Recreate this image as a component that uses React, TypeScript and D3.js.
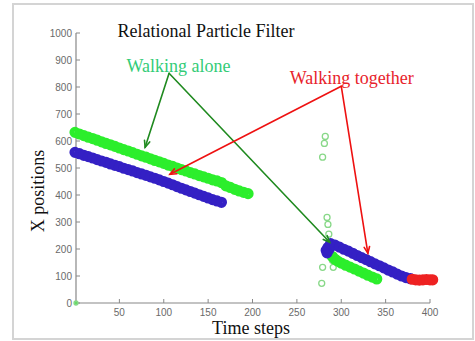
import React from "react";
import * as d3 from "d3";

// ---- data ----
const xTicks = [50, 100, 150, 200, 250, 300, 350, 400];
const yTicks = [0, 100, 200, 300, 400, 500, 600, 700, 800, 900, 1000];

// walking alone (green), first segment
const greenT1 = [0, 5, 10, 15, 20, 25, 30, 35, 40, 45, 50, 55, 60, 65, 70, 75, 80, 85, 90, 95, 100, 105, 110, 115, 120, 125, 130, 135, 140, 145, 150, 155, 160, 165, 170, 175, 180, 185, 190, 195];
const greenV1 = [632, 626, 620, 614, 609, 603, 597, 591, 586, 580, 574, 568, 563, 557, 551, 545, 540, 534, 528, 523, 517, 511, 506, 500, 494, 489, 483, 478, 472, 467, 462, 456, 452, 446, 434, 428, 421, 415, 410, 405];

// walking alone (blue), first segment
const blueT1 = [0, 5, 10, 15, 20, 25, 30, 35, 40, 45, 50, 55, 60, 65, 70, 75, 80, 85, 90, 95, 100, 105, 110, 115, 120, 125, 130, 135, 140, 145, 150, 155, 160, 165];
const blueV1 = [558, 553, 547, 542, 537, 531, 526, 521, 515, 510, 505, 499, 494, 489, 483, 478, 473, 467, 462, 456, 450, 444, 438, 431, 425, 419, 413, 407, 401, 395, 389, 383, 378, 373];

// second segment
const greenT2 = [290, 293, 296, 300, 305, 310, 315, 320, 325, 330, 335, 340];
const greenV2 = [172, 162, 155, 148, 140, 133, 126, 118, 111, 103, 96, 89];

const blueT2 = [283, 284, 285, 286, 288, 293, 298, 303, 308, 313, 318, 323, 328, 333, 338, 343, 348, 353, 358, 363, 368, 373, 378];
const blueV2 = [195, 186, 206, 198, 220, 214, 207, 199, 192, 184, 176, 168, 161, 153, 145, 138, 130, 122, 115, 107, 100, 94, 90];

const redT = [380, 384, 388, 392, 396, 400, 403];
const redV = [88, 86, 85, 86, 87, 86, 86];

// scattered particles (light green open circles)
const scatterT = [282, 281, 279, 284, 285, 286, 279, 291, 278, 290, 0];
const scatterV = [617, 591, 540, 317, 291, 255, 132, 132, 73, 158, 0];

// annotations (data coords)
const titleText = "Relational Particle Filter";
const aloneLabel = { text: "Walking alone", t: 58, v: 855 };
const togetherLabel = { text: "Walking together", t: 242, v: 812 };
const greenArrowFrom = { t: 106, v: 851 };
const greenArrowTo = [{ t: 79, v: 577 }, { t: 287, v: 225 }];
const redArrowFrom = { t: 300, v: 803 };
const redArrowTo = [{ t: 107, v: 477 }, { t: 330, v: 184 }];

const W = 475;
const H = 341;
const x = d3.scaleLinear().domain([0, 400]).range([75, 430]);
const y = d3.scaleLinear().domain([0, 1000]).range([303, 33]);

const SERIF = "'Liberation Serif', 'Times New Roman', serif";
const SANS = "'Liberation Sans', Arial, sans-serif";

function Band({ ts, vs, color }: { ts: number[]; vs: number[]; color: string }) {
  return (
    <g>
      {ts.map((t, i) => (
        <circle key={i} cx={x(t)} cy={y(vs[i])} r={3.2} fill="none" stroke={color} strokeWidth={4.8} />
      ))}
    </g>
  );
}

function Arrow({ from, to, color }: { from: { t: number; v: number }; to: { t: number; v: number }; color: string }) {
  const x1 = x(from.t), y1 = y(from.v), x2 = x(to.t), y2 = y(to.v);
  const ang = Math.atan2(y2 - y1, x2 - x1);
  const len = 7, spread = 0.4;
  const ax = x2 - len * Math.cos(ang - spread), ay = y2 - len * Math.sin(ang - spread);
  const bx = x2 - len * Math.cos(ang + spread), by = y2 - len * Math.sin(ang + spread);
  return (
    <g stroke={color} strokeWidth={1.6} fill="none" strokeLinecap="round">
      <line x1={x1} y1={y1} x2={x2} y2={y2} />
      <path d={`M${ax},${ay} L${x2},${y2} L${bx},${by}`} />
    </g>
  );
}

export default function App() {
  const axisColor = "#888";
  const tickText = "#6a6a6a";
  return (
    <svg width={W} height={H} style={{ position: "absolute", left: 0, top: 0, background: "#fff" }}>
      <rect x={13} y={4} width={460} height={335} fill="#fff" stroke="#d4d4d4" strokeWidth={2} />

      {/* axes */}
      <line x1={x(0) + 1} y1={y(0)} x2={x(0) + 1} y2={y(1000)} stroke={axisColor} strokeWidth={1.2} />
      <line x1={x(0) + 1} y1={y(0)} x2={x(400)} y2={y(0)} stroke={axisColor} strokeWidth={1.2} />
      {yTicks.map((v) => (
        <g key={"y" + v}>
          <line x1={x(0) + 1} x2={x(0) + 5} y1={y(v)} y2={y(v)} stroke={axisColor} strokeWidth={1} />
          <text x={x(0) - 3} y={y(v) + 3.5} textAnchor="end" fontFamily={SANS} fontSize={10} fill={tickText}>
            {v}
          </text>
        </g>
      ))}
      {xTicks.map((t) => (
        <g key={"x" + t}>
          <line x1={x(t)} x2={x(t)} y1={y(0)} y2={y(0) - 4} stroke={axisColor} strokeWidth={1} />
          <text x={x(t)} y={y(0) + 13} textAnchor="middle" fontFamily={SANS} fontSize={10} fill={tickText}>
            {t}
          </text>
        </g>
      ))}

      {/* axis labels and title */}
      <text x={206} y={37} textAnchor="middle" fontFamily={SERIF} fontSize={18} fill="#111">
        {titleText}
      </text>
      <text x={251} y={334} textAnchor="middle" fontFamily={SERIF} fontSize={18} fill="#111">
        Time steps
      </text>
      <text transform="translate(44,191) rotate(-90)" textAnchor="middle" fontFamily={SERIF} fontSize={18} fill="#111">
        X positions
      </text>

      {/* scattered particles */}
      {scatterT.map((t, i) => (
        <circle key={"s" + i} cx={x(t) + (t === 0 ? 1 : 0)} cy={y(scatterV[i])} r={t === 0 ? 2 : 3} fill={t === 0 ? "#66dd66" : "none"} stroke="#88d888" strokeWidth={1.3} />
      ))}

      {/* particle bands */}
      <Band ts={greenT1} vs={greenV1} color="#2cee2c" />
      <Band ts={blueT1} vs={blueV1} color="#3420c4" />
      <Band ts={greenT2} vs={greenV2} color="#2cee2c" />
      <Band ts={blueT2} vs={blueV2} color="#3420c4" />
      <Band ts={redT} vs={redV} color="#ee2222" />

      {/* annotations */}
      <text x={x(aloneLabel.t)} y={y(aloneLabel.v)} fontFamily={SERIF} fontSize={18} fill="#33cc77">
        {aloneLabel.text}
      </text>
      <text x={x(togetherLabel.t)} y={y(togetherLabel.v)} fontFamily={SERIF} fontSize={18} fill="#e8232b">
        {togetherLabel.text}
      </text>
      {greenArrowTo.map((to, i) => (
        <Arrow key={"g" + i} from={greenArrowFrom} to={to} color="#1f8a1f" />
      ))}
      {redArrowTo.map((to, i) => (
        <Arrow key={"r" + i} from={redArrowFrom} to={to} color="#ee1111" />
      ))}
    </svg>
  );
}
